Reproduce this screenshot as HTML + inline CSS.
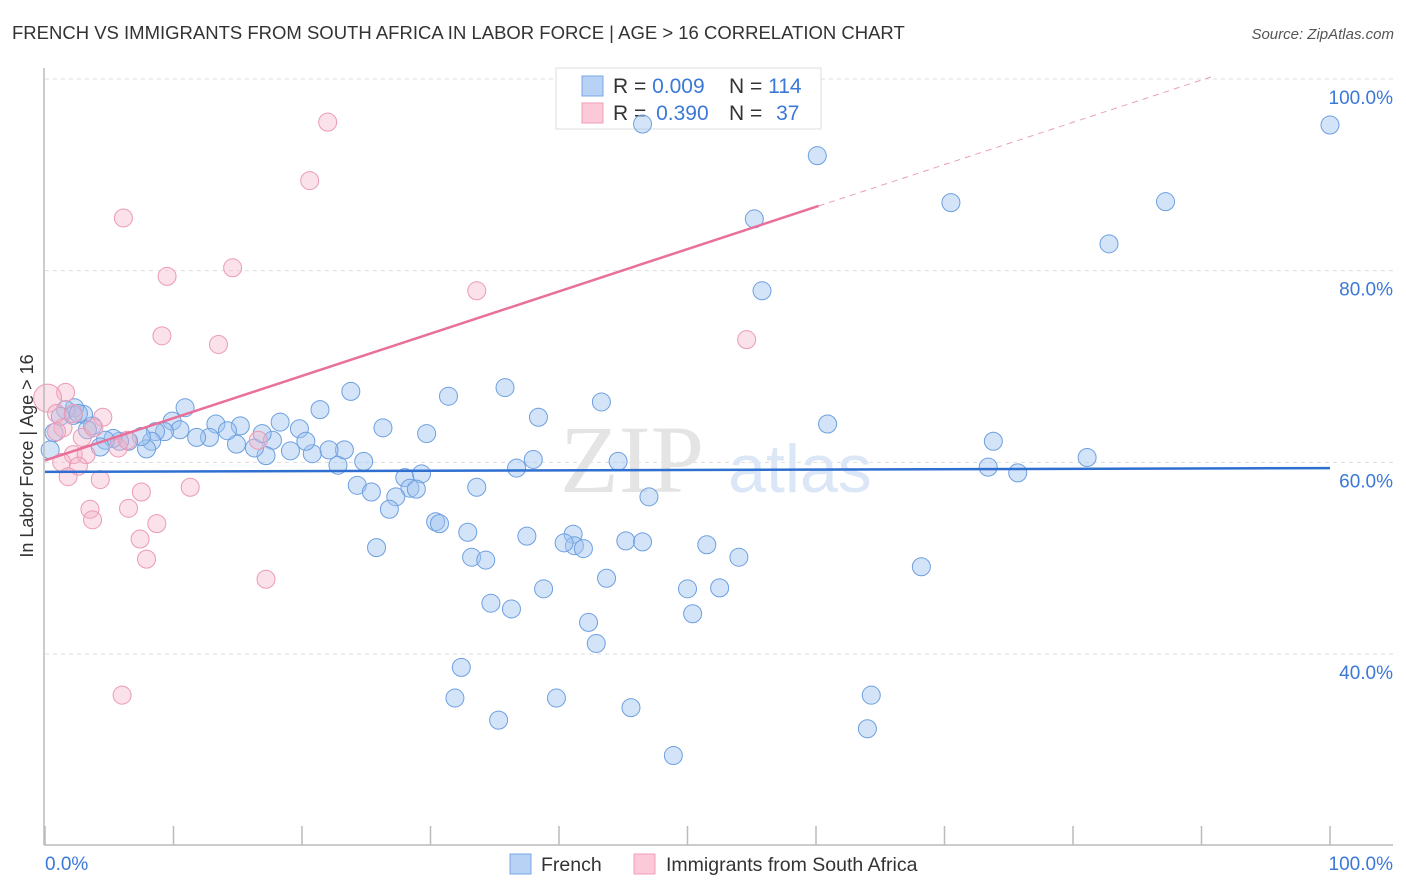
<!DOCTYPE html>
<html><head><meta charset="utf-8"><style>
body{margin:0;background:#fff;font-family:"Liberation Sans",sans-serif;}
svg{display:block}
</style></head><body>
<svg id="chart" width="1406" height="892" xmlns="http://www.w3.org/2000/svg">
<text x="12" y="39" font-size="18.5" fill="#333">FRENCH VS IMMIGRANTS FROM SOUTH AFRICA IN LABOR FORCE | AGE &gt; 16 CORRELATION CHART</text>
<text x="1394" y="39" font-size="15" fill="#555" font-style="italic" text-anchor="end">Source: ZipAtlas.com</text>
<g id="grid"></g>
<text x="632" y="492" font-size="96" fill="#e4e4e4" font-family="Liberation Serif,serif" text-anchor="middle">ZIP</text>
<text x="800" y="492" font-size="68" fill="#dbe7f7" text-anchor="middle">atlas</text>
<g>
<rect x="556" y="68" width="265" height="61" fill="#fff" stroke="#ddd"/>
<rect x="582" y="76" width="21" height="20" fill="#b7d2f5" stroke="#7aa7e6"/>
<rect x="582" y="103" width="21" height="20" fill="#fbc9d7" stroke="#ef9fb8"/>
<text x="613" y="93" font-size="21" fill="#333">R = <tspan fill="#3b78d8">0.009</tspan></text>
<text x="729" y="93" font-size="21" fill="#333">N = <tspan fill="#3b78d8">114</tspan></text>
<text x="613" y="120" font-size="21" fill="#333">R = <tspan fill="#3b78d8" dx="4">0.390</tspan></text>
<text x="729" y="120" font-size="21" fill="#333">N = <tspan fill="#3b78d8" dx="8">37</tspan></text>
</g>
<g id="marks"></g>
<g id="lines"></g>
<line x1="44" y1="68" x2="44" y2="845" stroke="#bbb" stroke-width="1.5"/>
<line x1="44" y1="845" x2="1393" y2="845" stroke="#bbb" stroke-width="1.5"/>
<g id="ticks"></g>
<text x="45" y="870" font-size="19" fill="#3b78d8">0.0%</text>
<text x="1393" y="870" font-size="19" fill="#3b78d8" text-anchor="end">100.0%</text>
<text transform="translate(33,456) rotate(-90)" font-size="18" fill="#333" text-anchor="middle">In Labor Force | Age &gt; 16</text>
<g>
<rect x="510" y="854" width="21" height="20" fill="#b7d2f5" stroke="#7aa7e6"/>
<text x="541" y="871" font-size="19.5" fill="#333">French</text>
<rect x="634" y="854" width="21" height="20" fill="#fbc9d7" stroke="#ef9fb8"/>
<text x="666" y="871" font-size="19.5" fill="#333">Immigrants from South Africa</text>
</g>
</svg>
<script>
const yTicks=[100,80,60,40];
const xTickVals=[0,10,20,30,40,50,60,70,80,90,100];
const blueX=[46.5,100,60.1,55.2,70.5,87.2,82.8,55.8,35.8,23.8,31.4,43.3,10.9,21.4,38.4,60.9,26.3,9.9,13.3,15.2,18.3,19.8,29.7,73.8,81.1,73.4,75.7,44.6,38.0,36.7,24.8,22.8,23.3,22.1,20.8,19.1,20.3,17.7,17.2,16.3,14.9,16.9,14.2,12.8,11.8,10.5,9.3,8.6,8.3,7.9,7.5,6.5,5.8,5.3,4.7,4.3,3.7,3.0,2.3,1.6,1.2,0.7,0.4,2.2,3.3,28.0,29.3,24.3,25.4,28.4,28.9,27.3,26.8,33.6,47.0,30.4,30.7,32.9,25.8,37.5,41.1,41.2,41.9,40.4,45.2,46.5,51.5,54.0,33.2,34.3,43.7,68.2,38.8,34.7,36.3,50.0,52.5,50.4,42.3,42.9,32.4,31.9,39.8,45.6,35.3,64.3,64.0,48.9,2.6];
const blueY=[95.3,95.2,92.0,85.4,87.1,87.2,82.8,77.9,67.8,67.4,66.9,66.3,65.7,65.5,64.7,64.0,63.6,64.3,64.0,63.8,64.2,63.5,63.0,62.2,60.5,59.5,58.9,60.1,60.3,59.4,60.1,59.7,61.3,61.3,60.9,61.2,62.2,62.3,60.7,61.5,61.9,63.0,63.3,62.6,62.6,63.4,63.2,63.2,62.2,61.4,62.7,62.2,62.2,62.5,62.3,61.6,63.8,65.0,65.7,65.5,64.8,63.1,61.3,64.9,63.4,58.4,58.8,57.6,56.9,57.3,57.2,56.4,55.1,57.4,56.4,53.8,53.6,52.7,51.1,52.3,52.5,51.3,51.0,51.6,51.8,51.7,51.4,50.1,50.1,49.8,47.9,49.1,46.8,45.3,44.7,46.8,46.9,44.2,43.3,41.1,38.6,35.4,35.4,34.4,33.1,35.7,32.2,29.4,65.1];
const pinkX=[22.0,20.6,6.1,14.6,9.5,33.6,9.1,13.5,54.6,1.6,0.2,0.9,2.2,4.5,1.4,2.9,3.8,5.7,6.4,16.6,2.2,3.2,1.3,2.6,1.8,4.3,11.3,7.5,3.5,6.5,3.7,8.7,7.4,7.9,17.2,6.0,0.9];
const pinkY=[95.5,89.4,85.5,80.3,79.4,77.9,73.2,72.3,72.8,67.3,66.7,65.1,65.1,64.7,63.6,62.6,63.6,61.5,62.3,62.3,60.8,60.8,60.0,59.6,58.5,58.2,57.4,56.9,55.1,55.2,54.0,53.6,52.0,49.9,47.8,35.7,63.2];
const blueLine=[59.0,59.4];
const pinkLine=[60.2,104.3];
const NS='http://www.w3.org/2000/svg';
const sx=v=>45+v*12.85;
const sy=v=>79+(100-v)*9.583;
function mk(tag,attrs,parent){const e=document.createElementNS(NS,tag);for(const k in attrs)e.setAttribute(k,attrs[k]);document.getElementById(parent).appendChild(e);return e;}
yTicks.forEach(t=>{
 const l=mk('line',{x1:45,x2:1393,y1:sy(t),y2:sy(t),stroke:'#ddd','stroke-dasharray':'4,4'},'grid');
 
 
 const tx=mk('text',{x:1393,y:sy(t)+25,'font-size':19,fill:'#3b78d8','text-anchor':'end'},'grid');
 tx.textContent=t.toFixed(1)+'%';
 
 
});
xTickVals.forEach(t=>{
 const l=mk('line',{x1:sx(t),x2:sx(t),y1:826,y2:845,stroke:'#bbb','stroke-width':1.5},'ticks');
 
 
});
blueX.forEach((x,i)=>{
 const c=mk('circle',{cx:sx(x),cy:sy(blueY[i]),r:9,fill:'rgba(160,196,240,0.45)',stroke:'#6d9fe0','stroke-width':1},'marks');
 
 
});
pinkX.forEach((x,i)=>{
 const c=mk('circle',{cx:sx(x),cy:sy(pinkY[i]),r:(i==10?14:9),fill:'rgba(245,180,200,0.4)',stroke:'#ec9ab5','stroke-width':1},'marks');
 
 
});
const bl=mk('line',{x1:sx(0),y1:sy(blueLine[0]),x2:sx(100),y2:sy(blueLine[1]),stroke:'#2f6fd0','stroke-width':2.5},'lines');


const pAt=v=>pinkLine[0]+(pinkLine[1]-pinkLine[0])*v/100;
const pl=mk('line',{x1:sx(0),y1:sy(pAt(0)),x2:sx(60.2),y2:sy(pAt(60.2)),stroke:'#e8709a','stroke-width':2.5},'lines');


const pd=mk('line',{x1:sx(60.2),y1:sy(pAt(60.2)),x2:sx(90.8),y2:sy(pAt(90.8)),stroke:'#e8a0b8','stroke-width':1,'stroke-dasharray':'6,5'},'lines');


</script>
</body></html>
